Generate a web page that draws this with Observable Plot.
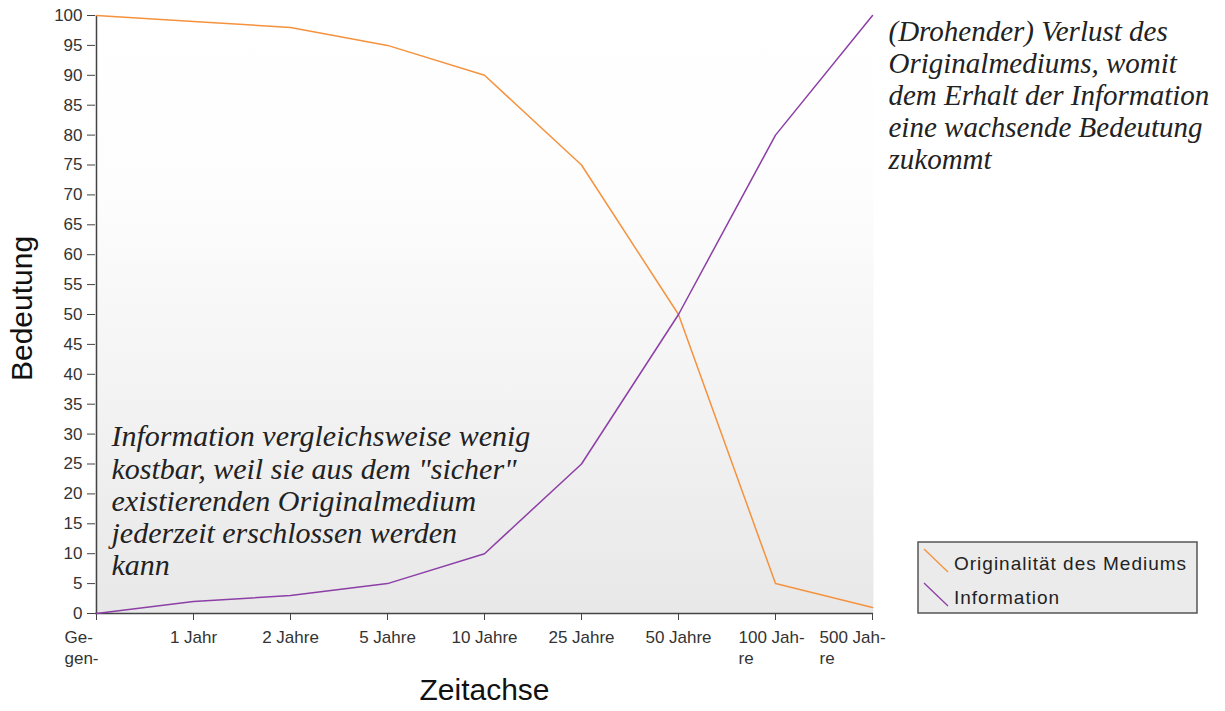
<!DOCTYPE html>
<html>
<head>
<meta charset="utf-8">
<script src="https://cdn.jsdelivr.net/npm/d3@7"></script>
<script src="https://cdn.jsdelivr.net/npm/@observablehq/plot@0.6"></script>
<style>
  body { margin: 0; background: #fff; }
  #wrap { position: relative; width: 1225px; height: 711px; overflow: hidden; }
  #legend { position: absolute; left: 917px; top: 541px; }
</style>
</head>
<body>
<div id="wrap"><div id="chart"></div><div id="legend"></div></div>
<script>
// ---- data ----
const categories = ["Gegenwart", "1 Jahr", "2 Jahre", "5 Jahre", "10 Jahre", "25 Jahre", "50 Jahre", "100 Jahre", "500 Jahre"];
const tickLabels = ["Ge-\ngen-", "1 Jahr", "2 Jahre", "5 Jahre", "10 Jahre", "25 Jahre", "50 Jahre", "100 Jah-\nre", "500 Jah-\nre"];
const originalitaet = [100, 99, 98, 95, 90, 75, 50, 5, 1];
const information = [0, 2, 3, 5, 10, 25, 50, 80, 100];
const yTicks = [0, 5, 10, 15, 20, 25, 30, 35, 40, 45, 50, 55, 60, 65, 70, 75, 80, 85, 90, 95, 100];
const seriesNames = ["Originalität des Mediums", "Information"];
const seriesColors = ["#f5923e", "#8c3fa6"];
const yLabel = "Bedeutung";
const xLabel = "Zeitachse";
const noteLeft = "Information vergleichsweise wenig\nkostbar, weil sie aus dem \"sicher\"\nexistierenden Originalmedium\njederzeit erschlossen werden\nkann";
const noteRight = "(Drohender) Verlust des\nOriginalmediums, womit\ndem Erhalt der Information\neine wachsende Bedeutung\nzukommt";

// ---- table ----
const rows = [];
[originalitaet, information].forEach((vals, s) => {
  categories.forEach((c, i) => rows.push({series: seriesNames[s], cat: c, value: vals[i]}));
});

const fmt = d => tickLabels[categories.indexOf(d)];

const defs = () => {
  const el = document.createElementNS("http://www.w3.org/2000/svg", "defs");
  el.innerHTML = '<linearGradient id="bgGrad" x1="0" y1="0" x2="0" y2="1">' +
    '<stop offset="0" stop-color="#ffffff"/><stop offset="0.3" stop-color="#fdfdfd"/>' +
    '<stop offset="1" stop-color="#e8e8e8"/></linearGradient>';
  return el;
};

const serif = "'Liberation Serif', 'Times New Roman', serif";
const axisText = {tickSize: 0, tickPadding: 14, fontSize: 17, lineHeight: 1.25, fill: "#333", label: null, tickFormat: fmt};

const chart = Plot.plot({
  width: 1225,
  height: 711,
  marginLeft: 95,
  marginRight: 352,
  marginTop: 15,
  marginBottom: 98,
  style: {fontFamily: "'Liberation Sans', Arial, sans-serif", background: "transparent", overflow: "visible"},
  x: {type: "point", domain: categories, padding: 0},
  y: {domain: [0, 100]},
  color: {domain: seriesNames, range: seriesColors},
  marks: [
    defs,
    Plot.frame({fill: "url(#bgGrad)", stroke: "none"}),
    Plot.axisY({ticks: yTicks, tickSize: 8, tickPadding: 5, fontSize: 17, stroke: "#444", fill: "#333", label: null}),
    Plot.axisX({ticks: categories, tickSize: 7, stroke: "#444", tickFormat: () => "", label: null}),
    Plot.axisX({...axisText, ticks: categories.slice(1, 7)}),
    Plot.axisX({...axisText, ticks: [categories[0]], textAnchor: "start", dx: -32}),
    Plot.axisX({...axisText, ticks: [categories[7]], textAnchor: "start", dx: -37}),
    Plot.axisX({...axisText, ticks: [categories[8]], textAnchor: "start", dx: -53}),
    Plot.ruleX([categories[0]], {stroke: "#444", strokeWidth: 1.5}),
    Plot.ruleY([0], {stroke: "#444", strokeWidth: 1.5}),
    Plot.line(rows, {x: "cat", y: "value", z: "series", stroke: "series", strokeWidth: 1.5}),
    Plot.text([yLabel], {text: d => d, frameAnchor: "left", textAnchor: "middle", dx: -73, dy: -6, rotate: -90, fontSize: 30, fill: "#111"}),
    Plot.text([xLabel], {text: d => d, frameAnchor: "bottom", textAnchor: "middle", dy: 86, fontSize: 30, fill: "#111"}),
    Plot.text([noteLeft], {text: d => d, frameAnchor: "top-left", textAnchor: "start", lineAnchor: "top", dx: 16, dy: 408,
      fontSize: 30, fontStyle: "italic", fontFamily: serif, lineHeight: 1.075, fill: "#222"}),
    Plot.text([noteRight], {text: d => d, frameAnchor: "top-right", textAnchor: "start", lineAnchor: "top", dx: 15, dy: 3,
      fontSize: 29, fontStyle: "italic", fontFamily: serif, lineHeight: 1.1, fill: "#222"})
  ]
});
document.getElementById("chart").appendChild(chart);

// ---- legend ----
const lg = d3.select("#legend").append("svg").attr("width", 282).attr("height", 73)
  .style("font-family", "'Liberation Sans', Arial, sans-serif");
lg.append("rect").attr("x", 1).attr("y", 1).attr("width", 279).attr("height", 71)
  .attr("fill", "#ebebeb").attr("stroke", "#555").attr("stroke-width", 1.5);
seriesNames.forEach((name, i) => {
  const y0 = 8 + i * 34;
  lg.append("line").attr("x1", 7).attr("y1", y0).attr("x2", 31).attr("y2", y0 + 23)
    .attr("stroke", seriesColors[i]).attr("stroke-width", 1.3);
  lg.append("text").attr("x", 37).attr("y", 29 + i * 34).text(name)
    .attr("font-size", 19).attr("letter-spacing", 1).attr("fill", "#222");
});
</script>
</body>
</html>
